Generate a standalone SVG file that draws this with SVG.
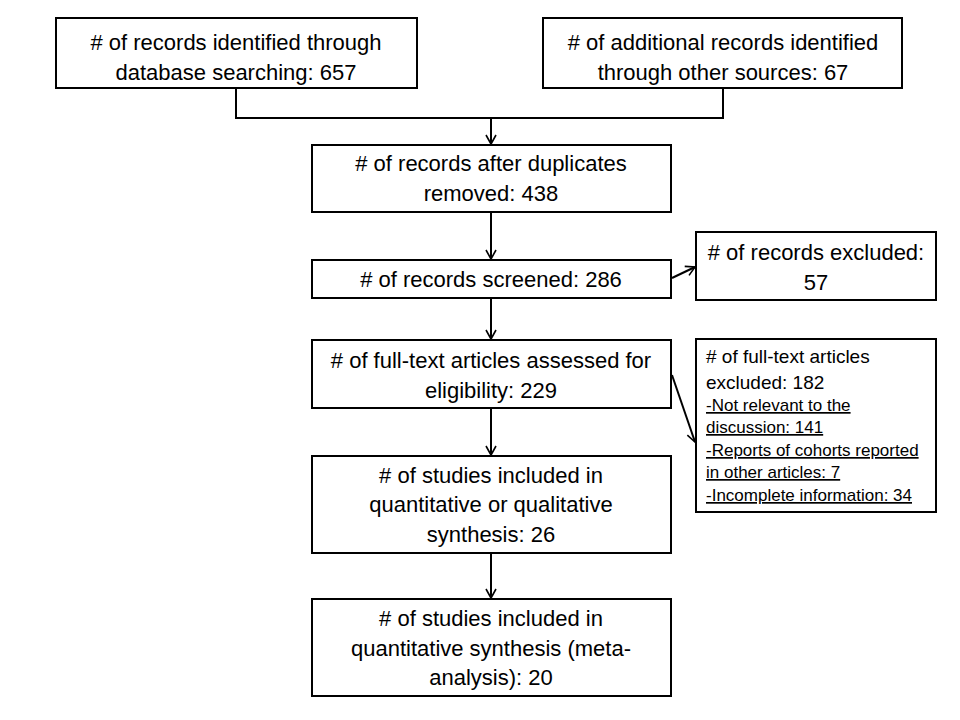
<svg xmlns="http://www.w3.org/2000/svg" width="960" height="720" viewBox="0 0 960 720">
<style>
.box{fill:#fff;stroke:#000;stroke-width:2}
.t{font-family:"Liberation Sans",Arial,sans-serif;font-size:22px;fill:#000;text-anchor:middle}
.s{font-family:"Liberation Sans",Arial,sans-serif;font-size:19px;fill:#000}
.u{font-family:"Liberation Sans",Arial,sans-serif;font-size:17px;fill:#000;text-decoration:underline}
.c{fill:none;stroke:#000;stroke-width:2}
</style>
<defs>
<marker id="ah" markerWidth="12" markerHeight="12" refX="10" refY="6" orient="auto" markerUnits="userSpaceOnUse">
<path d="M1,1 L10,6 L1,11" fill="none" stroke="#000" stroke-width="1.6"/>
</marker>
</defs>
<rect width="960" height="720" fill="#fff"/>
<g id="connectors">
<path class="c" d="M236,88 V118 H723 V88"/>
<path class="c" d="M491,118 V144" marker-end="url(#ah)"/>
<path class="c" d="M491,212 V259" marker-end="url(#ah)"/>
<path class="c" d="M672,278 L695,267" marker-end="url(#ah)"/>
<path class="c" d="M491,298 V339" marker-end="url(#ah)"/>
<path class="c" d="M672,375 L695,442" marker-end="url(#ah)"/>
<path class="c" d="M491,408 V455" marker-end="url(#ah)"/>
<path class="c" d="M491,553 V598" marker-end="url(#ah)"/>
</g>
<g id="n1">
<rect class="box" x="56" y="18" width="361" height="70"/>
<text class="t" x="236" y="50"># of records identified through</text>
<text class="t" x="236" y="80">database searching: 657</text>
</g>
<g id="n2">
<rect class="box" x="543" y="18" width="359" height="70"/>
<text class="t" x="723" y="50"># of additional records identified</text>
<text class="t" x="723" y="80">through other sources: 67</text>
</g>
<g id="n3">
<rect class="box" x="312" y="145" width="359" height="67"/>
<text class="t" x="491" y="171"># of records after duplicates</text>
<text class="t" x="491" y="201">removed: 438</text>
</g>
<g id="n4">
<rect class="box" x="312" y="260" width="359" height="38"/>
<text class="t" x="491" y="287"># of records screened: 286</text>
</g>
<g id="n5">
<rect class="box" x="696" y="232" width="240" height="68"/>
<text class="t" x="816" y="260"># of records excluded:</text>
<text class="t" x="816" y="290">57</text>
</g>
<g id="n6">
<rect class="box" x="312" y="340" width="359" height="68"/>
<text class="t" x="491" y="368"># of full-text articles assessed for</text>
<text class="t" x="491" y="398">eligibility: 229</text>
</g>
<g id="n7">
<rect class="box" x="696" y="339" width="240" height="173"/>
<text class="s" x="706" y="363"># of full-text articles</text>
<text class="s" x="706" y="389">excluded: 182</text>
<text class="u" x="706" y="411">-Not relevant to the</text>
<text class="u" x="706" y="433">discussion: 141</text>
<text class="u" x="706" y="456">-Reports of cohorts reported</text>
<text class="u" x="706" y="478">in other articles: 7</text>
<text class="u" x="706" y="501">-Incomplete information: 34</text>
</g>
<g id="n8">
<rect class="box" x="312" y="456" width="359" height="97"/>
<text class="t" x="491" y="483"># of studies included in</text>
<text class="t" x="491" y="512">quantitative or qualitative</text>
<text class="t" x="491" y="542">synthesis: 26</text>
</g>
<g id="n9">
<rect class="box" x="312" y="599" width="359" height="97"/>
<text class="t" x="491" y="626"># of studies included in</text>
<text class="t" x="491" y="656">quantitative synthesis (meta-</text>
<text class="t" x="491" y="685">analysis): 20</text>
</g>
</svg>
